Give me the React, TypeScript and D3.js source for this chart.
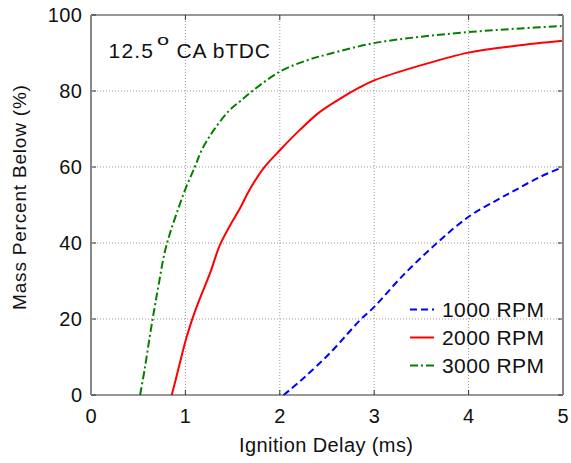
import React from "react";
import * as d3 from "d3";

const xTicks = [0, 1, 2, 3, 4, 5];
const yTicks = [0, 20, 40, 60, 80, 100];

const rpm1000: [number, number][] = [
  [2.04, 0], [2.1, 1.2], [2.25, 4.4], [2.53, 11], [2.85, 19.7], [3.0, 23.2],
  [3.31, 31.6], [3.66, 39.9], [4.0, 46.9], [4.3, 51.3], [4.5, 54], [4.75, 57.3], [5.0, 60],
];
const rpm2000: [number, number][] = [
  [0.855, 0], [0.9, 4.3], [0.94, 8.3], [1.01, 15], [1.08, 20.5], [1.155, 25.5], [1.26, 32],
  [1.366, 39.5], [1.47, 44.5], [1.58, 49.2], [1.68, 54], [1.825, 59.6], [2.0, 64.4],
  [2.21, 69.7], [2.425, 74.5], [2.64, 78], [2.85, 81], [3.0, 82.8], [3.5, 86.8],
  [4.0, 90.1], [4.5, 91.9], [5.0, 93.2],
];
const rpm3000: [number, number][] = [
  [0.52, 0], [0.57, 7], [0.62, 15], [0.67, 22.5], [0.713, 28.5], [0.78, 37.5],
  [0.836, 42.5], [0.91, 48], [1.0, 54.2], [1.1, 60], [1.172, 64.4],
  [1.3, 69.7], [1.47, 75], [1.58, 77.3], [1.72, 80.2], [2.0, 85.1], [2.28, 88],
  [2.53, 89.8], [3.0, 92.6], [3.5, 94.3], [4.0, 95.5], [4.5, 96.4], [5.0, 97.1],
];

const seriesNames = ["1000 RPM", "2000 RPM", "3000 RPM"];
const seriesData = [rpm1000, rpm2000, rpm3000];
const seriesColors = ["#0000ff", "#ff0000", "#008000"];
const seriesDash = ["7,4", "", "8,3,2,3"];

const W = 571, H = 463;
const L = 91, R = 563, T = 15, B = 395;
const FONT = "'Liberation Sans', Arial, Helvetica, sans-serif";

export default function App() {
  const x = d3.scaleLinear().domain([0, 5]).range([L, R]);
  const y = d3.scaleLinear().domain([0, 100]).range([B, T]);
  const line = d3.line<[number, number]>().x(d => x(d[0])).y(d => y(d[1]))
    .curve(d3.curveCatmullRom.alpha(0.5));
  const tickFs = 20, tickLs = 0.5;
  const legFs = 21, legLs = 0.4;
  const labFs = 20, labLs = 0.4;
  const yLabFs = 19, yLabLs = 0.8;
  return (
    <svg width={W} height={H} style={{ position: "absolute", left: 0, top: 0, background: "#fff" }}
      fontFamily={FONT}>
      <rect x={0} y={0} width={W} height={H} fill="#fff" />
      {/* grid */}
      {xTicks.slice(1, -1).map(t => (
        <line key={"gx" + t} x1={x(t)} x2={x(t)} y1={T} y2={B} stroke="#9a9a9a" strokeDasharray="1,2" />
      ))}
      {yTicks.slice(1, -1).map(t => (
        <line key={"gy" + t} x1={L} x2={R} y1={y(t)} y2={y(t)} stroke="#9a9a9a" strokeDasharray="1,2" />
      ))}
      {/* ticks */}
      {xTicks.map(t => (
        <g key={"tx" + t}>
          <line x1={x(t)} x2={x(t)} y1={B} y2={B - 5} stroke="#333" />
          <line x1={x(t)} x2={x(t)} y1={T} y2={T + 5} stroke="#333" />
          <text x={x(t) + tickLs / 2} y={422.5} fontSize={tickFs} letterSpacing={tickLs}
            textAnchor="middle" fill="#111">{t}</text>
        </g>
      ))}
      {yTicks.map(t => (
        <g key={"ty" + t}>
          <line x1={L} x2={L + 5} y1={y(t)} y2={y(t)} stroke="#333" />
          <line x1={R} x2={R - 5} y1={y(t)} y2={y(t)} stroke="#333" />
          <text x={82 + tickLs} y={y(t)} dy="0.36em" fontSize={tickFs} letterSpacing={tickLs}
            textAnchor="end" fill="#111">{t}</text>
        </g>
      ))}
      {/* series */}
      {seriesData.map((d, i) => (
        <path key={seriesNames[i]} d={line(d) || ""} fill="none" stroke={seriesColors[i]}
          strokeWidth={2} strokeDasharray={seriesDash[i] || undefined} />
      ))}
      {/* frame */}
      <line x1={L} x2={R} y1={T} y2={T} stroke="#333" strokeWidth={1.2} />
      <line x1={L} x2={R} y1={B} y2={B} stroke="#333" strokeWidth={1.2} />
      <line x1={L} x2={L} y1={T} y2={B} stroke="#888" strokeWidth={2} />
      <line x1={R} x2={R} y1={T} y2={B} stroke="#888" strokeWidth={2} />
      {/* annotation */}
      <text x={108.5} y={57.5} fontSize={21} letterSpacing={1.2} fill="#111">12.5</text>
      <text transform="translate(157,45) scale(1.45,1)" fontSize={15} fill="#111">o</text>
      <text x={176.5} y={57.5} fontSize={21} letterSpacing={0.8} fill="#111">CA bTDC</text>
      {/* legend */}
      {seriesNames.map((n, i) => (
        <g key={"lg" + n}>
          <line x1={410} x2={434} y1={309.5 + i * 28} y2={309.5 + i * 28} stroke={seriesColors[i]}
            strokeWidth={2} strokeDasharray={seriesDash[i] || undefined} />
          <text x={442} y={309.5 + i * 28} dy="0.36em" fontSize={legFs} letterSpacing={legLs}
            fill="#111">{n}</text>
        </g>
      ))}
      {/* axis labels */}
      <text x={(L + R) / 2 - 1 + labLs / 2} y={451.5} fontSize={labFs} letterSpacing={labLs}
        textAnchor="middle" fill="#111">Ignition Delay (ms)</text>
      <text transform={`translate(25.5, ${197.5 - yLabLs / 2}) rotate(-90)`} fontSize={yLabFs}
        letterSpacing={yLabLs} textAnchor="middle" fill="#111">
        Mass Percent Below (%)
      </text>
    </svg>
  );
}
